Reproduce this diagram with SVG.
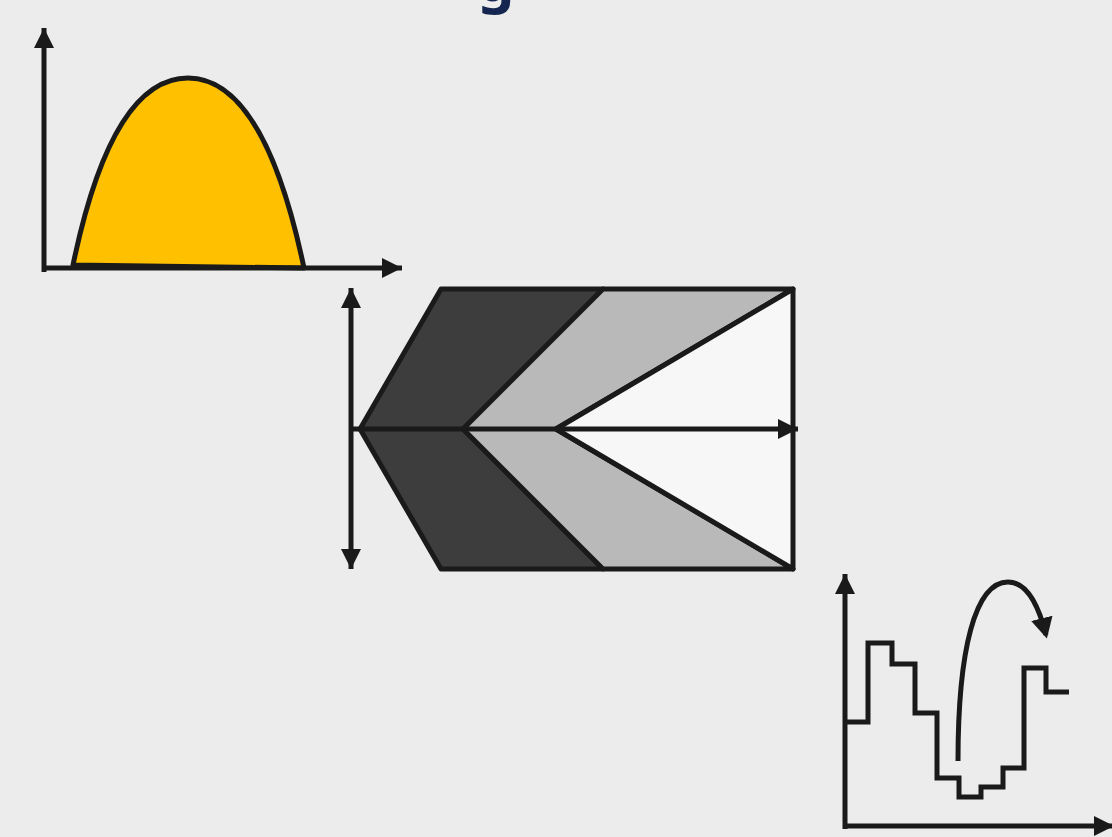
<svg xmlns="http://www.w3.org/2000/svg" width="1112" height="837" viewBox="0 0 1112 837">
<defs>
<marker id="ah" markerUnits="userSpaceOnUse" markerWidth="20" markerHeight="20" viewBox="0 0 18 18" refX="18" refY="9" orient="auto-start-reverse">
<path d="M0,0 L18,9 L0,18 Z" fill="#1a1a1a"/>
</marker>
<marker id="ah2" markerUnits="userSpaceOnUse" markerWidth="22" markerHeight="22" viewBox="0 0 18 18" refX="14" refY="9" orient="auto">
<path d="M0,0 L17,9 L0,18 Z" fill="#1a1a1a"/>
</marker>
</defs>
<style>
.ln{fill:none;stroke:#1a1a1a;stroke-width:5}
.sh{stroke:#1a1a1a;stroke-width:5;stroke-linejoin:round}
.ax{fill:none;stroke:#1a1a1a;stroke-width:5;marker-end:url(#ah)}
</style>
<rect width="1112" height="837" fill="#ececec"/>
<text x="496" y="1" font-family="'Noto Sans', 'Lato', sans-serif" font-weight="bold" font-size="58" fill="#14264f" text-anchor="middle">g</text>

<g id="chart1">
<path class="sh" fill="#ffc000" d="M73,265 C100,135 140,78 188,78 C236,78 276,135 304,268 Z"/>
<line class="ax" x1="44" y1="272" x2="44" y2="28"/>
<line class="ax" x1="44" y1="268" x2="402" y2="268"/>
</g>

<g id="chart2">
<polygon class="sh" fill="#3d3d3d" points="441,289 603,289 463,429 603,569 441,569 360,429"/>
<polygon class="sh" fill="#b9b9b9" points="603,289 793,289 556,429 793,569 603,569 463,429"/>
<polygon class="sh" fill="#f7f7f7" points="793,289 556,429 793,569"/>
<line class="ax" x1="351" y1="429" x2="798" y2="429"/>
<line class="ln" x1="351" y1="288" x2="351" y2="569" style="marker-start:url(#ah);marker-end:url(#ah)"/>
</g>

<g id="chart3">
<line class="ax" x1="845" y1="829" x2="845" y2="574"/>
<line class="ax" x1="845" y1="826" x2="1114" y2="826"/>
<polyline class="ln" stroke-linejoin="miter" points="847,722 868,722 868,643 892,643 892,664 915,664 915,713 937,713 937,778 959,778 959,797 981,797 981,787 1003,787 1003,768 1024,768 1024,668 1046,668 1046,692 1069,692"/>
<path class="ln" d="M958,761 C958,650 975,582 1008,582 C1027,582 1039,607 1046,635" style="marker-end:url(#ah2)"/>
</g>
</svg>
